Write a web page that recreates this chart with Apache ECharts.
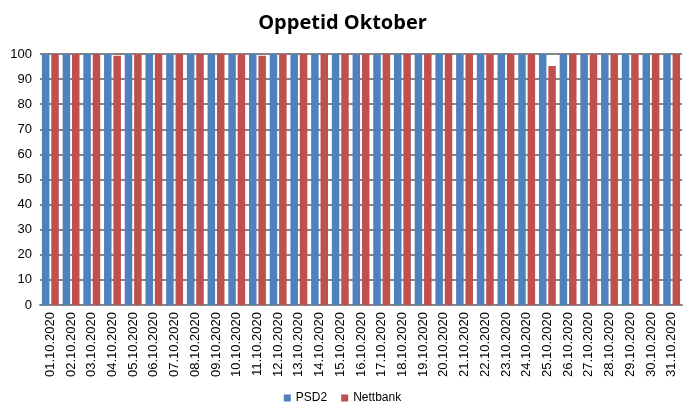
<!DOCTYPE html>
<html><head><meta charset="utf-8">
<script src="https://cdn.jsdelivr.net/npm/echarts@6/dist/echarts.min.js"></script>
<style>html,body{margin:0;padding:0;background:#fff}#c{width:685px;height:415px}</style>
</head><body><div id="c"></div>
<script>
const categories = ["01.10.2020","02.10.2020","03.10.2020","04.10.2020","05.10.2020","06.10.2020","07.10.2020","08.10.2020","09.10.2020","10.10.2020","11.10.2020","12.10.2020","13.10.2020","14.10.2020","15.10.2020","16.10.2020","17.10.2020","18.10.2020","19.10.2020","20.10.2020","21.10.2020","22.10.2020","23.10.2020","24.10.2020","25.10.2020","26.10.2020","27.10.2020","28.10.2020","29.10.2020","30.10.2020","31.10.2020"];
const psd2 = [100,100,100,100,100,100,100,100,100,100,100,100,100,100,100,99.9,99.9,99.9,100,100,100,100,100,100,100,100,100,100,100,100,100];
const nettbank = [100,100,100,99.3,100,100,100,100,100,100,99.3,100,100,100,100,100,100,100,100,100,100,100,100,100,95.2,100,99.9,100,100,100,100];
const yTicks = {min:0, max:100, interval:10};

const chart = echarts.init(document.getElementById('c'));
const font = '"Liberation Sans", Arial, sans-serif';
chart.setOption({
  animation:false,
  title:{text:'Oppetid Oktober', left:'center', top:8, textStyle:{fontFamily:'"Open Sans", "Noto Sans", sans-serif', fontWeight:'bold', fontSize:20, color:'#000'}},
  legend:{bottom:6, left:'center', itemWidth:7, itemHeight:7, itemGap:14, icon:'rect', textStyle:{fontFamily:font, fontSize:12, color:'#000'}, data:['PSD2','Nettbank']},
  grid:{left:40, right:3, top:54, bottom:110},
  xAxis:{type:'category', data:categories, axisTick:{show:false},
    axisLine:{lineStyle:{color:'#868686', width:2}},
    axisLabel:{rotate:90, interval:0, fontFamily:font, fontSize:13, color:'#000', margin:7}},
  yAxis:{type:'value', min:yTicks.min, max:yTicks.max, interval:yTicks.interval,
    axisLine:{show:false}, axisTick:{show:false},
    splitLine:{lineStyle:{color:'#868686', width:2}},
    axisLabel:{fontFamily:font, fontSize:13, color:'#000', margin:8}},
  series:[
    {name:'PSD2', type:'bar', data:psd2, barWidth:7.5, barGap:'25%', itemStyle:{color:'#4F81BD'}},
    {name:'Nettbank', type:'bar', data:nettbank, barWidth:7.5, itemStyle:{color:'#C0504D'}}
  ]
});
</script></body></html>
